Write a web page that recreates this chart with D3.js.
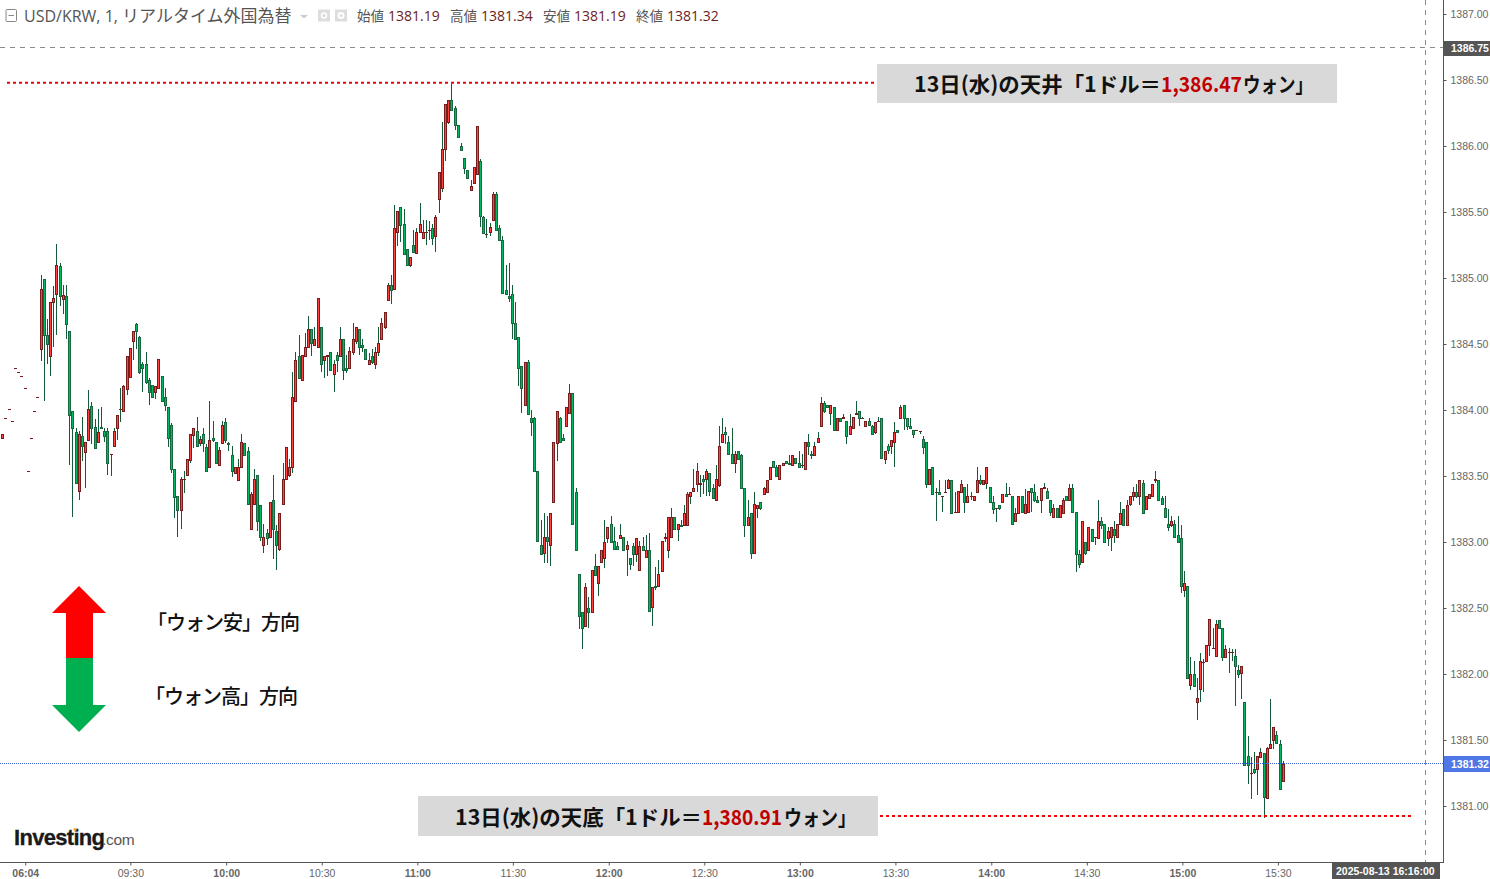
<!DOCTYPE html>
<html><head><meta charset="utf-8">
<script src="https://cdn.jsdelivr.net/npm/d3@7"></script>
<style>html,body{margin:0;padding:0;background:#fff;overflow:hidden}svg{display:block}</style>
</head><body><svg id="c" width="1490" height="879"></svg>
<script>
// Rows are [open, high, low, close], one per minute bar.
const barsPre0930=[[1383.79,1383.82,1383.79,1383.82],[1383.94,1383.94,1383.94,1383.94],[1384.01,1384.01,1384.01,1384.01],[1383.92,1383.92,1383.92,1383.92],[1384.32,1384.32,1384.32,1384.32],[1384.29,1384.29,1384.29,1384.29],[1384.26,1384.26,1384.26,1384.26],[1384.17,1384.17,1384.17,1384.17],[1383.54,1383.54,1383.54,1383.54],[1383.79,1383.79,1383.79,1383.79],[1383.99,1383.99,1383.99,1383.99],[1384.10,1384.10,1384.10,1384.10],
[1384.46,1385.02,1384.37,1384.92],[1384.99,1384.99,1384.07,1384.57],[1384.57,1384.69,1384.35,1384.50],[1384.41,1384.82,1384.26,1384.82],[1384.82,1384.94,1384.48,1384.85],[1384.88,1385.26,1384.57,1385.10],[1385.09,1385.11,1384.79,1384.86],[1384.84,1384.95,1384.73,1384.87],[1384.86,1384.95,1384.54,1384.65],[1384.60,1384.60,1383.58,1383.96],[1383.99,1383.99,1383.19,1383.86],[1383.83,1383.86,1383.45,1383.45],[1383.39,1383.84,1383.32,1383.82],[1383.80,1383.95,1383.61,1383.73],[1383.68,1383.76,1383.41,1383.76],[1383.77,1384.15,1383.77,1384.01],[1384.03,1384.06,1383.74,1383.86],[1383.87,1383.93,1383.71,1383.71],[1383.76,1384.01,1383.76,1383.83],[1383.87,1384.02,1383.86,1383.86],[1383.84,1383.86,1383.76,1383.80],[1383.84,1383.86,1383.51,1383.60],[1383.67,1383.67,1383.50,1383.67],[1383.73,1383.86,1383.73,1383.84],[1383.86,1383.96,1383.77,1383.96],[1384.01,1384.17,1383.91,1384.01],[1383.99,1384.19,1383.99,1384.18],[1384.16,1384.41,1384.11,1384.41]];
const bars0930=[[1384.25,1384.47,1384.24,1384.47],[1384.52,1384.60,1384.38,1384.60],[1384.65,1384.66,1384.46,1384.60],[1384.55,1384.56,1384.27,1384.29],[1384.35,1384.36,1384.14,1384.32],[1384.35,1384.44,1384.20,1384.21],[1384.23,1384.24,1384.04,1384.14],[1384.19,1384.19,1384.10,1384.10],[1384.14,1384.18,1384.08,1384.18],[1384.17,1384.39,1384.16,1384.39],[1384.26,1384.26,1384.07,1384.07],[1384.10,1384.17,1383.99,1384.04],[1384.02,1384.02,1383.72,1383.79],[1383.89,1383.90,1383.52,1383.55],[1383.55,1383.55,1383.18,1383.34],[1383.35,1383.35,1383.04,1383.24],[1383.24,1383.49,1383.10,1383.48],[1383.48,1383.54,1383.37,1383.48],[1383.51,1383.63,1383.51,1383.63],[1383.62,1383.82,1383.60,1383.82],[1383.81,1383.86,1383.71,1383.86],[1383.84,1383.95,1383.73,1383.73],[1383.75,1383.80,1383.73,1383.78],[1383.82,1383.86,1383.68,1383.75],[1383.72,1383.74,1383.54,1383.54],[1383.57,1384.07,1383.57,1383.77],[1383.79,1383.92,1383.76,1383.77],[1383.76,1383.76,1383.60,1383.60],[1383.58,1383.72,1383.58,1383.70],[1383.75,1383.92,1383.75,1383.89]];
const bars1000=[[1383.91,1383.94,1383.75,1383.77],[1383.75,1383.76,1383.69,1383.74],[1383.66,1383.73,1383.49,1383.54],[1383.52,1383.57,1383.52,1383.57],[1383.47,1383.63,1383.46,1383.57],[1383.57,1383.82,1383.57,1383.76],[1383.75,1383.75,1383.66,1383.66],[1383.69,1383.72,1383.29,1383.29],[1383.10,1383.38,1383.10,1383.36],[1383.29,1383.55,1383.28,1383.48],[1383.51,1383.51,1383.08,1383.16],[1383.28,1383.28,1383.01,1383.04],[1382.98,1383.14,1382.92,1383.04],[1383.07,1383.10,1382.98,1383.03],[1383.04,1383.30,1383.04,1383.30],[1383.32,1383.51,1382.87,1383.10],[1383.08,1383.13,1382.79,1382.98],[1382.95,1383.22,1382.93,1383.22],[1383.29,1383.60,1383.29,1383.48],[1383.48,1383.72,1383.48,1383.72],[1383.51,1383.63,1383.49,1383.57],[1383.57,1384.29,1383.52,1384.10],[1384.07,1384.44,1384.07,1384.38],[1384.41,1384.57,1384.24,1384.24],[1384.23,1384.42,1384.22,1384.42],[1384.41,1384.58,1384.40,1384.48],[1384.48,1384.71,1384.48,1384.61],[1384.61,1384.61,1384.41,1384.51],[1384.49,1384.63,1384.49,1384.54],[1384.48,1384.85,1384.48,1384.85]];
const bars1030=[[1384.63,1384.63,1384.29,1384.35],[1384.38,1384.41,1384.24,1384.41],[1384.41,1384.42,1384.26,1384.42],[1384.44,1384.44,1384.30,1384.30],[1384.27,1384.38,1384.14,1384.35],[1384.42,1384.44,1384.29,1384.38],[1384.41,1384.63,1384.41,1384.54],[1384.54,1384.54,1384.23,1384.30],[1384.32,1384.42,1384.28,1384.30],[1384.32,1384.48,1384.32,1384.45],[1384.44,1384.66,1384.42,1384.54],[1384.52,1384.63,1384.50,1384.63],[1384.61,1384.61,1384.42,1384.48],[1384.49,1384.54,1384.44,1384.48],[1384.46,1384.46,1384.39,1384.39],[1384.35,1384.43,1384.35,1384.38],[1384.41,1384.46,1384.35,1384.36],[1384.35,1384.48,1384.31,1384.44],[1384.44,1384.63,1384.41,1384.51],[1384.54,1384.70,1384.54,1384.66],[1384.63,1384.74,1384.61,1384.74],[1384.83,1384.96,1384.83,1384.95],[1384.95,1385.02,1384.80,1384.91],[1384.92,1385.55,1384.92,1385.38],[1385.35,1385.51,1385.24,1385.51],[1385.54,1385.54,1385.27,1385.40],[1385.41,1385.52,1385.18,1385.18],[1385.22,1385.22,1385.10,1385.10],[1385.10,1385.16,1385.08,1385.16],[1385.25,1385.36,1385.20,1385.20]];
const bars1100=[[1385.19,1385.38,1385.19,1385.35],[1385.35,1385.57,1385.35,1385.41],[1385.30,1385.44,1385.30,1385.35],[1385.35,1385.44,1385.25,1385.35],[1385.36,1385.43,1385.29,1385.36],[1385.38,1385.41,1385.25,1385.30],[1385.32,1385.48,1385.20,1385.46],[1385.60,1385.80,1385.49,1385.80],[1385.68,1386.18,1385.65,1385.98],[1385.98,1386.32,1385.89,1386.32],[1386.18,1386.35,1386.17,1386.35],[1386.35,1386.47,1386.27,1386.27],[1386.29,1386.30,1386.12,1386.16],[1386.16,1386.16,1386.07,1386.07],[1386.00,1386.02,1385.96,1385.97],[1385.91,1385.91,1385.79,1385.83],[1385.82,1385.82,1385.76,1385.76],[1385.67,1385.74,1385.67,1385.70],[1385.72,1385.84,1385.71,1385.84],[1385.79,1386.15,1385.79,1386.15],[1385.89,1385.90,1385.39,1385.47],[1385.46,1385.47,1385.33,1385.34],[1385.33,1385.45,1385.30,1385.33],[1385.35,1385.42,1385.32,1385.39],[1385.44,1385.65,1385.43,1385.64],[1385.64,1385.65,1385.36,1385.36],[1385.38,1385.40,1385.29,1385.29],[1385.29,1385.32,1384.89,1384.89],[1384.91,1385.10,1384.88,1384.88],[1384.86,1385.11,1384.82,1384.85]];
const bars1130=[[1384.88,1384.95,1384.54,1384.66],[1384.66,1384.82,1384.54,1384.54],[1384.55,1384.55,1384.18,1384.32],[1384.33,1384.33,1383.98,1384.17],[1384.04,1384.36,1384.04,1384.36],[1384.36,1384.38,1383.97,1383.97],[1383.94,1384.00,1383.80,1383.91],[1383.94,1383.95,1383.54,1383.54],[1383.54,1383.54,1383.01,1383.01],[1382.98,1383.17,1382.91,1382.91],[1382.92,1383.22,1382.84,1383.04],[1383.04,1383.20,1382.84,1383.01],[1382.98,1383.22,1382.82,1383.22],[1383.30,1383.76,1383.30,1383.76],[1383.75,1383.99,1383.61,1383.99],[1383.94,1383.95,1383.76,1383.76],[1383.79,1383.82,1383.77,1383.77],[1383.88,1384.02,1383.88,1384.02],[1383.98,1384.20,1383.98,1384.13],[1384.13,1384.13,1383.14,1383.14],[1383.38,1383.41,1382.94,1382.94],[1382.76,1382.76,1382.34,1382.44],[1382.47,1382.47,1382.19,1382.35],[1382.36,1382.69,1382.36,1382.66],[1382.50,1382.58,1382.35,1382.47],[1382.47,1382.79,1382.47,1382.79],[1382.82,1382.91,1382.75,1382.75],[1382.69,1382.82,1382.59,1382.82],[1382.85,1382.94,1382.85,1382.94],[1382.88,1383.17,1382.80,1383.00]];
const bars1200=[[1383.03,1383.11,1382.99,1383.11],[1383.14,1383.20,1383.00,1383.00],[1383.01,1383.11,1382.95,1382.95],[1382.97,1383.00,1382.95,1382.95],[1383.03,1383.14,1383.03,1383.05],[1383.04,1383.04,1382.94,1382.94],[1382.95,1383.01,1382.74,1382.98],[1382.88,1382.88,1382.79,1382.83],[1382.97,1382.99,1382.82,1382.91],[1382.91,1383.03,1382.85,1383.03],[1382.79,1383.01,1382.79,1382.97],[1382.97,1383.04,1382.94,1382.94],[1382.89,1383.05,1382.89,1382.94],[1382.94,1383.07,1382.48,1382.48],[1382.51,1382.66,1382.36,1382.66],[1382.67,1382.81,1382.64,1382.66],[1382.67,1382.86,1382.67,1382.76],[1382.78,1383.01,1382.78,1383.01],[1383.03,1383.07,1383.00,1383.04],[1382.94,1383.19,1382.88,1383.19],[1383.04,1383.26,1383.04,1383.19],[1383.19,1383.19,1383.10,1383.10],[1383.10,1383.14,1383.01,1383.14],[1383.13,1383.17,1383.12,1383.12],[1383.13,1383.28,1383.13,1383.22],[1383.13,1383.38,1383.13,1383.36],[1383.35,1383.38,1383.29,1383.38],[1383.39,1383.55,1383.39,1383.41],[1383.44,1383.60,1383.38,1383.54],[1383.44,1383.51,1383.34,1383.45]];
const bars1230=[[1383.48,1383.51,1383.36,1383.46],[1383.48,1383.55,1383.35,1383.54],[1383.52,1383.52,1383.35,1383.39],[1383.41,1383.44,1383.33,1383.33],[1383.32,1383.58,1383.32,1383.48],[1383.43,1383.88,1383.42,1383.73],[1383.76,1383.94,1383.76,1383.82],[1383.83,1383.87,1383.74,1383.82],[1383.76,1383.80,1383.67,1383.67],[1383.67,1383.86,1383.60,1383.60],[1383.60,1383.69,1383.52,1383.67],[1383.69,1383.69,1383.63,1383.63],[1383.66,1383.67,1383.41,1383.41],[1383.41,1383.41,1383.04,1383.13],[1383.13,1383.32,1383.13,1383.19],[1383.22,1383.22,1382.87,1382.92],[1382.92,1383.38,1382.91,1383.29],[1383.26,1383.28,1383.18,1383.28],[1383.30,1383.30,1383.24,1383.26],[1383.36,1383.42,1383.36,1383.41],[1383.38,1383.47,1383.38,1383.47],[1383.48,1383.57,1383.48,1383.57],[1383.61,1383.61,1383.57,1383.57],[1383.57,1383.58,1383.50,1383.50],[1383.48,1383.58,1383.48,1383.58],[1383.58,1383.60,1383.58,1383.60],[1383.61,1383.61,1383.60,1383.60],[1383.60,1383.66,1383.59,1383.59],[1383.58,1383.66,1383.58,1383.66],[1383.64,1383.64,1383.59,1383.60]];
const bars1300=[[1383.60,1383.69,1383.56,1383.57],[1383.58,1383.67,1383.56,1383.58],[1383.55,1383.76,1383.55,1383.76],[1383.76,1383.82,1383.66,1383.73],[1383.67,1383.69,1383.63,1383.66],[1383.66,1383.76,1383.66,1383.73],[1383.76,1383.83,1383.75,1383.79],[1383.88,1384.10,1383.88,1384.05],[1384.05,1384.07,1383.98,1383.99],[1384.04,1384.04,1384.02,1384.02],[1383.98,1384.04,1383.89,1384.04],[1384.02,1384.02,1383.84,1383.85],[1383.85,1383.94,1383.85,1383.94],[1383.94,1383.94,1383.91,1383.92],[1383.94,1383.97,1383.94,1383.95],[1383.92,1383.92,1383.74,1383.80],[1383.82,1383.97,1383.82,1383.88],[1383.86,1383.95,1383.86,1383.95],[1383.97,1384.07,1383.97,1383.98],[1383.99,1383.99,1383.88,1383.94],[1383.94,1383.95,1383.94,1383.94],[1383.88,1383.92,1383.87,1383.92],[1383.92,1383.94,1383.89,1383.89],[1383.88,1383.89,1383.82,1383.82],[1383.83,1383.91,1383.82,1383.91],[1383.92,1383.95,1383.92,1383.92],[1383.94,1383.94,1383.64,1383.64],[1383.63,1383.69,1383.59,1383.69],[1383.73,1383.74,1383.67,1383.70],[1383.73,1383.77,1383.67,1383.77]];
const bars1330=[[1383.76,1383.91,1383.57,1383.83],[1383.85,1383.85,1383.83,1383.83],[1383.94,1384.04,1383.94,1384.02],[1384.04,1384.04,1383.85,1383.94],[1383.94,1383.94,1383.85,1383.88],[1383.88,1383.94,1383.86,1383.86],[1383.85,1383.85,1383.79,1383.82],[1383.85,1383.85,1383.85,1383.85],[1383.84,1383.84,1383.82,1383.84],[1383.78,1383.80,1383.67,1383.72],[1383.76,1383.76,1383.41,1383.44],[1383.44,1383.55,1383.44,1383.55],[1383.57,1383.57,1383.36,1383.36],[1383.38,1383.41,1383.16,1383.38],[1383.38,1383.47,1383.36,1383.36],[1383.35,1383.35,1383.23,1383.35],[1383.38,1383.47,1383.37,1383.38],[1383.41,1383.48,1383.41,1383.47],[1383.47,1383.47,1383.22,1383.22],[1383.23,1383.38,1383.22,1383.23],[1383.23,1383.39,1383.22,1383.39],[1383.38,1383.47,1383.38,1383.44],[1383.42,1383.42,1383.22,1383.30],[1383.30,1383.44,1383.30,1383.35],[1383.35,1383.38,1383.32,1383.35],[1383.32,1383.35,1383.32,1383.35],[1383.38,1383.57,1383.38,1383.47],[1383.47,1383.51,1383.43,1383.45],[1383.44,1383.47,1383.44,1383.47],[1383.45,1383.57,1383.40,1383.57]];
const bars1400=[[1383.42,1383.42,1383.30,1383.30],[1383.30,1383.35,1383.21,1383.25],[1383.26,1383.26,1383.15,1383.26],[1383.28,1383.28,1383.24,1383.26],[1383.30,1383.36,1383.30,1383.36],[1383.36,1383.45,1383.35,1383.35],[1383.36,1383.42,1383.36,1383.36],[1383.35,1383.35,1383.14,1383.14],[1383.16,1383.26,1383.16,1383.22],[1383.22,1383.35,1383.22,1383.35],[1383.35,1383.35,1383.23,1383.23],[1383.22,1383.40,1383.22,1383.29],[1383.23,1383.39,1383.23,1383.39],[1383.41,1383.41,1383.23,1383.38],[1383.38,1383.44,1383.30,1383.32],[1383.32,1383.35,1383.30,1383.30],[1383.32,1383.41,1383.22,1383.41],[1383.41,1383.45,1383.40,1383.42],[1383.39,1383.41,1383.33,1383.33],[1383.32,1383.32,1383.20,1383.23],[1383.19,1383.29,1383.19,1383.26],[1383.26,1383.26,1383.19,1383.19],[1383.19,1383.28,1383.19,1383.28],[1383.22,1383.33,1383.22,1383.32],[1383.35,1383.35,1383.32,1383.32],[1383.32,1383.44,1383.32,1383.41],[1383.41,1383.44,1383.23,1383.23],[1383.23,1383.23,1382.77,1382.91],[1382.91,1382.94,1382.80,1382.83],[1382.85,1383.16,1382.84,1383.16]];
const bars1430=[[1383.00,1383.00,1382.90,1382.92],[1382.94,1383.11,1382.94,1383.11],[1383.10,1383.10,1383.01,1383.01],[1383.04,1383.04,1382.98,1383.04],[1383.03,1383.32,1383.03,1383.16],[1383.16,1383.19,1383.10,1383.13],[1383.14,1383.14,1382.99,1383.00],[1383.03,1383.11,1382.97,1383.08],[1383.04,1383.11,1382.93,1383.11],[1383.10,1383.16,1382.99,1383.05],[1383.04,1383.14,1383.04,1383.14],[1383.14,1383.30,1383.14,1383.22],[1383.25,1383.25,1383.13,1383.13],[1383.13,1383.32,1383.12,1383.28],[1383.29,1383.35,1383.27,1383.35],[1383.35,1383.42,1383.31,1383.38],[1383.38,1383.44,1383.33,1383.35],[1383.35,1383.47,1383.28,1383.47],[1383.45,1383.47,1383.22,1383.22],[1383.25,1383.35,1383.25,1383.35],[1383.33,1383.36,1383.33,1383.36],[1383.35,1383.44,1383.35,1383.44],[1383.47,1383.54,1383.45,1383.48],[1383.47,1383.47,1383.32,1383.32],[1383.33,1383.35,1383.29,1383.29],[1383.26,1383.35,1383.19,1383.19],[1383.14,1383.25,1383.08,1383.11],[1383.13,1383.20,1383.11,1383.16],[1383.14,1383.17,1383.04,1383.04],[1383.05,1383.20,1383.00,1383.00]];
const bars1500=[[1383.03,1383.13,1382.61,1382.67],[1382.64,1382.78,1382.58,1382.69],[1382.67,1382.67,1381.97,1381.97],[1381.92,1382.13,1381.88,1382.00],[1382.00,1382.10,1381.91,1381.91],[1381.79,1381.97,1381.65,1381.82],[1381.89,1382.16,1381.79,1382.10],[1382.09,1382.11,1381.86,1382.09],[1382.10,1382.22,1382.10,1382.22],[1382.22,1382.42,1382.14,1382.42],[1382.20,1382.35,1382.20,1382.20],[1382.14,1382.41,1382.14,1382.38],[1382.41,1382.41,1382.35,1382.35],[1382.35,1382.35,1382.10,1382.13],[1382.13,1382.22,1382.13,1382.19],[1382.17,1382.20,1382.01,1382.17],[1382.17,1382.19,1382.10,1382.17],[1382.14,1382.19,1381.76,1382.06],[1382.03,1382.07,1381.97,1382.00],[1382.01,1382.06,1381.81,1382.06],[1381.79,1381.79,1381.31,1381.31],[1381.38,1381.53,1381.17,1381.31],[1381.25,1381.37,1381.05,1381.25],[1381.28,1381.41,1381.24,1381.26],[1381.28,1381.38,1381.08,1381.38],[1381.37,1381.44,1381.37,1381.41],[1381.40,1381.40,1380.91,1381.07],[1381.06,1381.45,1381.06,1381.44],[1381.44,1381.81,1381.44,1381.47],[1381.50,1381.60,1381.43,1381.60]];
const bars1530=[[1381.54,1381.57,1381.48,1381.48],[1381.47,1381.50,1381.13,1381.13],[1381.19,1381.34,1381.19,1381.32]];

const priceTicks=[1381,1381.5,1382,1382.5,1383,1383.5,1384,1384.5,1385,1385.5,1386,1386.5,1387];
const timeLabels=["06:04","09:30","10:00","10:30","11:00","11:30","12:00","12:30","13:00","13:30","14:00","14:30","15:00","15:30"];
const timeBarIndex=[7.2,40.2,70.3,100.3,130.3,160.3,190.4,220.4,250.4,280.4,310.5,340.5,370.5,400.5];
const ohlcLegend=[["始値",1381.19],["高値",1381.34],["安値",1381.19],["終値",1381.32]];
const lastPrice=1381.32, crossPrice=1386.75, dayHigh=1386.47, dayLow=1380.91;

const bars=[].concat(barsPre0930,bars0930,bars1000,bars1030,bars1100,bars1130,bars1200,bars1230,bars1300,bars1330,bars1400,bars1430,bars1500,bars1530);
const W=1490,H=879,axisX=1443.5,axisY=862.5;
const JP='"Noto Sans CJK JP","Noto Sans",sans-serif';
const AR='"Liberation Sans",Arial,sans-serif';
const x=d3.scaleLinear().domain([0,bars.length-1]).range([2.3,1282.7]);
const y=d3.scaleLinear().domain([1381,1387]).range([806,14]);
const svg=d3.select("#c");
const line=(x1,y1,x2,y2,st,w,da)=>svg.append("line").attr("x1",x1).attr("y1",y1).attr("x2",x2).attr("y2",y2).attr("stroke",st).attr("stroke-width",w).attr("stroke-dasharray",da||null);

// candles
const g=svg.append("g").attr("shape-rendering","crispEdges");
const WICK="#14593a",UPB="#7a1c1c",UPF="#ff4343",DNB="#14693e",DNF="#00b962";
const c=g.selectAll("g").data(bars).join("g").attr("transform",(d,i)=>`translate(${Math.round(x(i))},0)`);
c.filter(d=>d[1]>d[2]).append("rect").attr("x",0).attr("width",1).attr("y",d=>Math.round(y(d[1]))).attr("height",d=>Math.max(1,Math.round(y(d[2]))-Math.round(y(d[1])))).attr("fill",WICK);
c.each(function(d){
  const s=d3.select(this),top=Math.round(y(Math.max(d[0],d[3]))),bot=Math.round(y(Math.min(d[0],d[3])));
  if(bot===top){s.append("rect").attr("x",-1).attr("y",top).attr("width",3).attr("height",1).attr("fill",UPB);return;}
  const up=d[3]>d[0];
  s.append("rect").attr("x",-0.5).attr("y",top+.5).attr("width",2).attr("height",bot-top).attr("fill",up?UPF:DNF).attr("stroke",up?UPB:DNB).attr("stroke-width",1);
});

// guide lines
const lastY=Math.floor(y(lastPrice))+.5;
line(0,lastY,axisX,lastY,"#3f63cf",1,"1 1");
line(0,47.5,axisX,47.5,"#8a8a8a",1,"5 5");
line(1425.5,0,1425.5,axisY,"#8a8a8a",1,"5 5");

// annotation boxes
svg.append("rect").attr("x",877).attr("y",64).attr("width",460).attr("height",39).attr("fill","#d9d9d9");
svg.append("rect").attr("x",418).attr("y",796).attr("width",460).attr("height",40).attr("fill","#d9d9d9");
line(7,y(dayHigh)-1.2,874,y(dayHigh)-1.2,"#f00000",2,"3 3");
line(880,y(dayLow)-2,1412,y(dayLow)-2,"#f00000",2,"3 3");
function note(ty,parts){
  parts.forEach(p=>svg.append("text").attr("x",p.at).attr("y",ty).attr("font-family",JP).attr("font-weight",700).attr("font-size",21).attr("fill",p.col).attr("textLength",p.len).attr("lengthAdjust","spacingAndGlyphs").text(p.t));
}
note(92,[{t:"13日(水)の天井「1ドル＝",at:914,len:247,col:"#111"},{t:d3.format(",.2f")(dayHigh),at:1161,len:81,col:"#c00000"},{t:"ウォン」",at:1243,len:70,col:"#111"}]);
note(825,[{t:"13日(水)の天底「1ドル＝",at:455,len:247,col:"#111"},{t:d3.format(",.2f")(dayLow),at:702,len:80,col:"#c00000"},{t:"ウォン」",at:784,len:72,col:"#111"}]);

// axes
const yAxis=d3.axisRight(y).tickValues(priceTicks).tickFormat(d3.format(".2f")).tickSize(3).tickPadding(4);
const ya=svg.append("g").attr("transform",`translate(${axisX},0)`).call(yAxis);
ya.select(".domain").remove();
ya.selectAll("line").attr("stroke","#555");
ya.selectAll("text").attr("font-family",AR).attr("font-size",10.5).attr("fill","#666");
const xAxis=d3.axisBottom(x).tickValues(timeBarIndex).tickFormat((d,i)=>timeLabels[i]).tickSize(3).tickPadding(4);
const xa=svg.append("g").attr("transform",`translate(0,${axisY})`).call(xAxis);
xa.select(".domain").remove();
xa.selectAll("line").attr("stroke","#555");
xa.selectAll("text").attr("font-family",AR).attr("font-size",10.5).attr("fill","#666").attr("font-weight",(d,i)=>(/:00|06:04/.test(timeLabels[i])?700:400));
line(axisX,0,axisX,axisY+.5,"#555",1);
line(0,axisY,axisX,axisY,"#555",1);

// axis flags
function flag(bx,by,bw,bh,col,txt,tx){
  svg.append("rect").attr("x",bx).attr("y",by).attr("width",bw).attr("height",bh).attr("fill",col);
  svg.append("text").attr("x",tx).attr("y",by+bh/2+3.7).attr("font-family",AR).attr("font-weight",700).attr("font-size",10.5).attr("fill","#fff").text(txt);
}
flag(1444,41,46,15,"#555",crossPrice.toFixed(2),1451);
flag(1444,756,46,16,"#4f78e6",lastPrice.toFixed(2),1451);
flag(1332,863,108,16,"#555","2025-08-13 16:16:00",1336);

// header
const hd=svg.append("g");
hd.append("rect").attr("x",6).attr("y",9.5).attr("width",10.5).attr("height",12).attr("rx",1).attr("fill","none").attr("stroke","#888");
hd.append("line").attr("x1",8.5).attr("x2",14).attr("y1",15.5).attr("y2",15.5).attr("stroke","#888");
const title=hd.append("text").attr("x",24).attr("y",21.5).attr("font-family",'"Open Sans","Noto Sans CJK JP",sans-serif').attr("fill","#555");
title.append("tspan").attr("font-size",16).text("USD/KRW, 1, ");
title.append("tspan").attr("font-size",17).text("リアルタイム外国為替");
hd.append("path").attr("d","M300 15h8l-4 3.5z").attr("fill","#ccc");
hd.append("rect").attr("x",318).attr("y",9.5).attr("width",12).attr("height",12).attr("fill","#ddd");
hd.append("circle").attr("cx",324).attr("cy",15.5).attr("r",2.5).attr("fill","none").attr("stroke","#fff").attr("stroke-width",1.5);
hd.append("rect").attr("x",335).attr("y",9.5).attr("width",12).attr("height",12).attr("fill","#ddd");
hd.append("circle").attr("cx",341).attr("cy",15.5).attr("r",2.5).attr("fill","none").attr("stroke","#fff").attr("stroke-width",2);
const lx=[357,450,543,636];
ohlcLegend.forEach((r,i)=>{
  hd.append("text").attr("x",lx[i]).attr("y",21).attr("font-family",JP).attr("font-size",13.5).attr("fill","#555").text(r[0]);
  hd.append("text").attr("x",lx[i]+31).attr("y",21).attr("font-family",'"Open Sans",sans-serif').attr("font-size",14).attr("fill","#6b1d1d").text(r[1].toFixed(2));
});

// direction arrows
svg.append("path").attr("d","M79 586L106 613H93V658H66V613H52Z").attr("fill","#ff0000");
svg.append("path").attr("d","M79 732L106 705H93V658H66V705H52Z").attr("fill","#00b050");
svg.append("text").attr("x",147).attr("y",630).attr("font-family",JP).attr("font-weight",500).attr("font-size",20).attr("fill","#111").attr("textLength",153).text("「ウォン安」方向");
svg.append("text").attr("x",145).attr("y",704).attr("font-family",JP).attr("font-weight",500).attr("font-size",20).attr("fill","#111").attr("textLength",153).text("「ウォン高」方向");

// logo
svg.append("text").attr("x",14).attr("y",845).attr("font-family",AR).attr("font-weight",700).attr("font-size",22).attr("letter-spacing",-0.7).attr("fill","#1a1a1a").attr("stroke","#1a1a1a").attr("stroke-width",.3).text("Investing");
svg.append("text").attr("x",102).attr("y",845).attr("font-family",AR).attr("font-size",15.5).attr("letter-spacing",-0.3).attr("fill","#555").text(".com");
svg.append("circle").attr("cx",75).attr("cy",829.5).attr("r",1.6).attr("fill","#f5a623");
</script></body></html>
